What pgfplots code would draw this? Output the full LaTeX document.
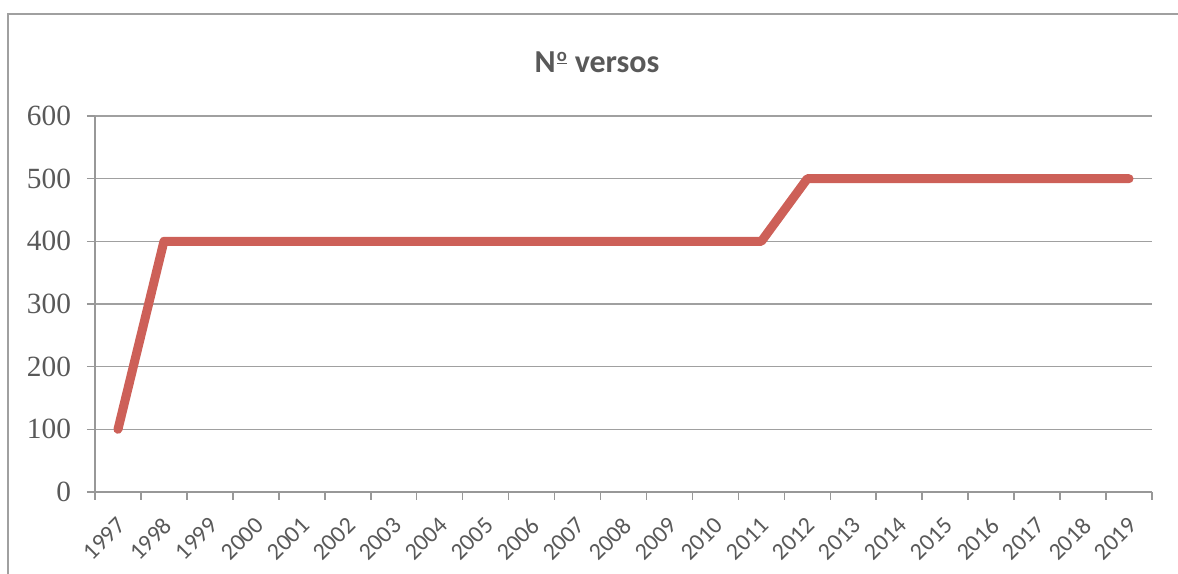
\documentclass[border=0pt]{standalone}
\usepackage{pgfplots}
\pgfplotsset{compat=1.18}
\usepackage{fontspec}
\setmainfont{Liberation Serif}
\newfontfamily\carlito{Carlito}
\definecolor{linered}{RGB}{205,96,88}
\definecolor{axgray}{RGB}{152,152,152}
\definecolor{gridgray}{RGB}{160,160,160}
\definecolor{txt}{RGB}{89,89,89}
\begin{document}
\begin{tikzpicture}
\useasboundingbox (0,0) rectangle (883.5pt,430.5pt);
\draw[draw=gridgray, line width=1.1pt] (6pt,-5pt) -- (6pt,420pt) -- (890pt,420pt);
\node[font=\carlito\bfseries\fontsize{24}{28}\selectfont, text=txt] at (447.75pt,384pt) {N\kern0.04em\raisebox{0.33em}{\fontsize{14}{14}\selectfont\underline{o}}\kern0.02em\ versos};
\begin{axis}[at={(71.25pt,61.5pt)}, anchor=south west, scale only axis,
  width=792.75pt, height=282pt,
  xmin=-0.5, xmax=22.5, ymin=0, ymax=600,
  ytick={0,100,...,600},
  xtick={0,...,22},
  xticklabels={1997,1998,1999,2000,2001,2002,2003,2004,2005,2006,2007,2008,2009,2010,2011,2012,2013,2014,2015,2016,2017,2018,2019},
  minor xtick={-0.5,0.5,...,22.5},
  axis x line*=bottom, axis y line*=left,
  axis line style={-, draw=axgray, line width=1.2pt},
  tick style={draw=axgray, line width=1.2pt},
  major x tick style={draw=none},
  tick align=outside,
  major tick length=6pt, minor tick length=6pt,
  ymajorgrids, major grid style={draw=gridgray, line width=1.2pt},
  /pgf/number format/assume math mode=true,
  yticklabel style={font=\fontsize{22}{24}\selectfont, text=txt, xshift=-8.5pt},
  xticklabel style={font=\carlito\fontsize{18}{21}\selectfont, text=txt, xshift=-1.5pt, yshift=-7pt, rotate=45, anchor=north east},
  clip=false,
]
\addplot[linered, line width=6.75pt, line join=round, line cap=round] coordinates {
(0,100)(1,400)(2,400)(3,400)(4,400)(5,400)(6,400)(7,400)(8,400)(9,400)(10,400)(11,400)(12,400)(13,400)(14,400)
(15,500)(16,500)(17,500)(18,500)(19,500)(20,500)(21,500)(22,500)};
\end{axis}
\end{tikzpicture}
\end{document}
